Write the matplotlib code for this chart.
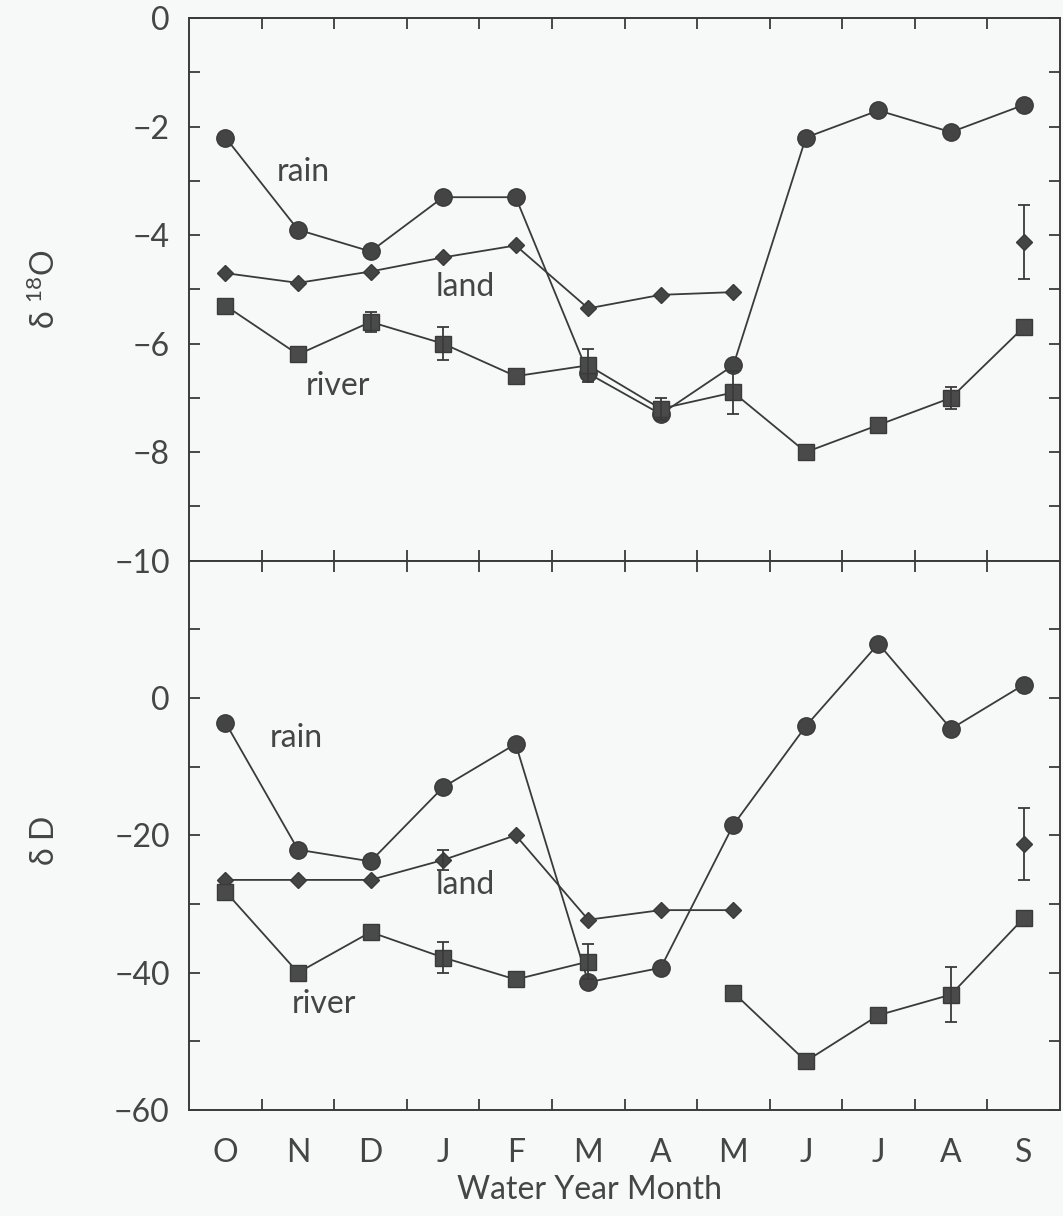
import numpy as np
import matplotlib
matplotlib.use("Agg")
import matplotlib.pyplot as plt

nan = np.nan

months = ["O", "N", "D", "J", "F", "M", "A", "M", "J", "J", "A", "S"]

# delta 18O (top panel)
o18_rain = [-2.2, -3.9, -4.3, -3.3, -3.3, -6.55, -7.3, -6.4, -2.2, -1.7, -2.1, -1.6]
o18_land = [-4.7, -4.88, -4.67, -4.41, -4.19, -5.35, -5.1, -5.05, nan, nan, nan, nan]
o18_river = [-5.3, -6.2, -5.6, -6.0, -6.6, -6.4, -7.2, -6.9, -8.0, -7.5, -7.0, -5.7]
o18_river_err = [0, 0, 0.18, 0.3, 0, 0.3, 0.2, 0.4, 0, 0, 0.2, 0]
o18_land_sep = -4.13
o18_land_sep_err = 0.68

# delta D (bottom panel)
dD_rain = [-3.6, -22.1, -23.8, -13.0, -6.7, -41.4, -39.3, -18.5, -4.1, 7.9, -4.5, 1.9]
dD_land = [-26.5, -26.5, -26.5, -23.6, -20.0, -32.3, -30.9, -30.9, nan, nan, nan, nan]
dD_land_err = [0, 0, 0, 1.5, 0, 0, 0, 0, 0, 0, 0, 0]
dD_river = [-28.2, -40.0, -34.1, -37.8, -41.0, -38.4, nan, -42.9, -52.9, -46.2, -43.2, -32.1]
dD_river_err = [0, 0, 0, 2.2, 0, 2.5, 0, 0, 0, 0, 4.0, 0]
dD_land_sep = -21.3
dD_land_sep_err = 5.2

INK = "#3a3a3a"
TXT = "#454545"
BKG = "#f7f9f8"
FS = 23

plt.rcParams["font.family"] = ["Lato", "DejaVu Sans"]
plt.rcParams["font.weight"] = "normal"
plt.rcParams["text.color"] = TXT
plt.rcParams["mathtext.fontset"] = "custom"
plt.rcParams["mathtext.rm"] = "Lato"
plt.rcParams["mathtext.it"] = "Lato"


def style_axis(ax, ylim, major, minor, show_months):
    x = np.arange(len(months))
    ax.set_facecolor(BKG)
    ax.set_xlim(-0.5, 11.5)
    ax.set_ylim(*ylim)
    for s in ax.spines.values():
        s.set_color(INK)
        s.set_linewidth(1.4)
    ax.set_xticks(np.arange(0.5, 11, 1))
    ax.set_xticklabels([])
    ax.set_xticks(x, minor=True)
    ax.set_xticklabels(months if show_months else [""] * 12, minor=True)
    ax.tick_params(axis="x", which="major", direction="in", length=8, width=1.3,
                   top=True, bottom=True, color=INK)
    ax.tick_params(axis="x", which="minor", length=0, pad=20, labelsize=FS,
                   labelcolor=TXT)
    ax.set_yticks(major)
    ax.set_yticks(minor, minor=True)
    ax.tick_params(axis="y", which="both", direction="in", length=8, width=1.3,
                   left=True, right=True, color=INK, labelsize=FS, labelcolor=TXT,
                   pad=14)


def draw(ax, rain, land, river, river_err, land_err, land_sep, land_sep_err):
    x = np.arange(len(months))
    kw = dict(color=INK, lw=1.3)
    ax.plot(x, rain, marker="o", ms=12.5, mfc="#444444", mec=INK, **kw)
    ax.plot(x, land, marker="D", ms=8, mfc="#444444", mec=INK, **kw)
    ax.plot(x, river, marker="s", ms=12, mfc="#4a4a4a", mec=INK, **kw)
    re = np.array(river_err)
    m = re > 0
    ax.errorbar(x[m], np.array(river)[m], yerr=re[m], fmt="none", ecolor=INK,
                elinewidth=1.3, capsize=4, capthick=1.3)
    le = np.array(land_err)
    m = le > 0
    ax.errorbar(x[m], np.array(land)[m], yerr=le[m], fmt="none", ecolor=INK,
                elinewidth=1.3, capsize=4, capthick=1.3)
    ax.errorbar([11], [land_sep], yerr=[land_sep_err], fmt="D", ms=8,
                mfc="#444444", mec=INK, ecolor=INK, elinewidth=1.3, capsize=4,
                capthick=1.3)


fig = plt.figure(figsize=(10.63, 12.16), dpi=100, facecolor=BKG)
ax1 = fig.add_axes([0.178, 0.539, 0.819, 0.446])
ax2 = fig.add_axes([0.178, 0.0872, 0.819, 0.4518])

style_axis(ax1, (-10, 0), np.arange(-10, 1, 2), np.arange(-9, 0, 2), False)
style_axis(ax2, (-60, 20), [-60, -40, -20, 0], [-50, -30, -10, 10], True)

draw(ax1, o18_rain, o18_land, o18_river, o18_river_err, [0] * 12,
     o18_land_sep, o18_land_sep_err)
draw(ax2, dD_rain, dD_land, dD_river, dD_river_err, dD_land_err,
     dD_land_sep, dD_land_sep_err)

ax1.text(1.07, -2.84, "rain", fontsize=FS, ha="center", va="center")
ax1.text(3.3, -4.95, "land", fontsize=FS, ha="center", va="center")
ax1.text(1.55, -6.78, "river", fontsize=FS, ha="center", va="center")
ax2.text(0.97, -5.8, "rain", fontsize=FS, ha="center", va="center")
ax2.text(3.3, -27.3, "land", fontsize=FS, ha="center", va="center")
ax2.text(1.36, -44.5, "river", fontsize=FS, ha="center", va="center")

fig.text(0.042, 0.762, r"$\delta\ ^{18}$O", fontsize=FS, rotation=90,
         ha="center", va="center")
fig.text(0.042, 0.309, r"$\delta$ D", fontsize=FS, rotation=90,
         ha="center", va="center")
fig.text(0.555, 0.021, "Water Year Month", fontsize=FS, ha="center", va="center")

fig.savefig("out.png", dpi=100, facecolor=BKG)
